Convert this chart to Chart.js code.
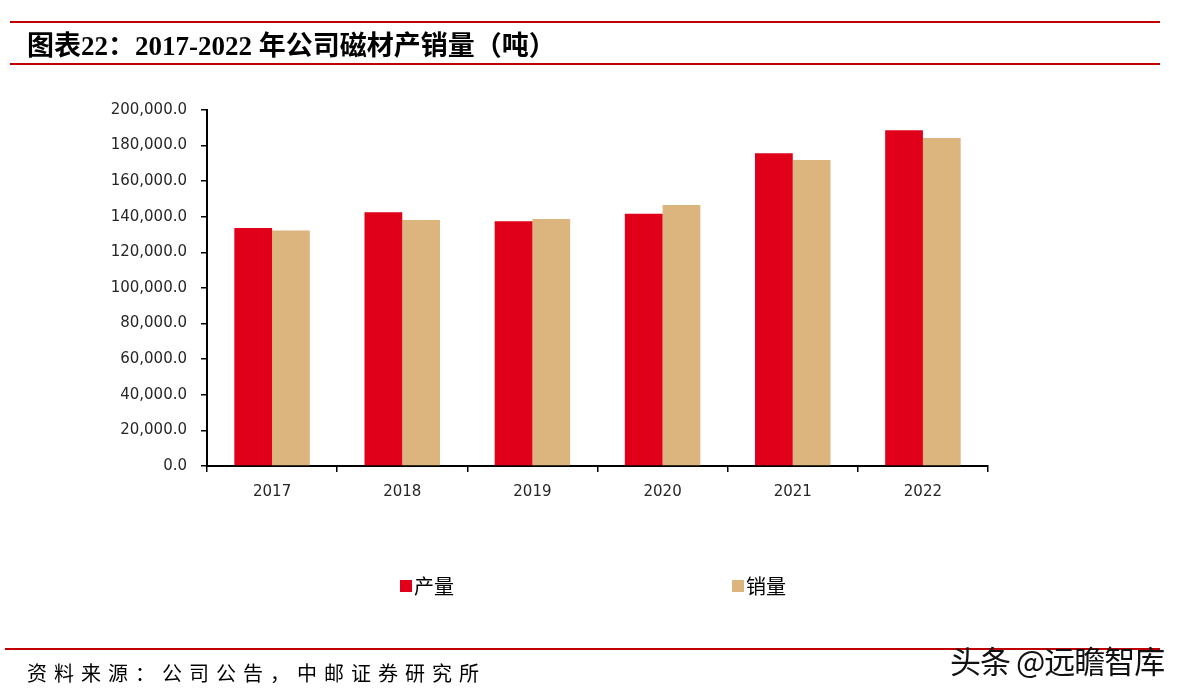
<!DOCTYPE html>
<html><head><meta charset="utf-8">
<script src="https://cdn.jsdelivr.net/npm/chart.js@4.4.1/dist/chart.umd.min.js"></script>
<style>
html,body{margin:0;padding:0;background:#fff;width:1190px;height:695px;overflow:hidden;position:relative}
#c{position:absolute;left:0;top:0}
.rule{position:absolute;background:#C00000;}
#title{position:absolute;left:27px;top:29px;font:bold 27px "Liberation Serif","Noto Sans CJK SC";color:#000;white-space:nowrap;line-height:34px}
#src{position:absolute;left:27px;top:659px;font:20px "Noto Sans CJK SC";letter-spacing:7px;color:#000;white-space:nowrap;line-height:28px}
#wm{position:absolute;left:950px;top:641px;font:31px "Noto Sans CJK SC";color:#111;white-space:nowrap;line-height:38px;letter-spacing:-1px}
</style></head>
<body>
<canvas id="c" width="1190" height="695"></canvas>
<div class="rule" style="left:10px;top:21px;width:1150px;height:2px"></div>
<div id="title">图表22：2017-2022 年公司磁材产销量（吨）</div>
<div class="rule" style="left:10px;top:63px;width:1150px;height:2px"></div>
<div class="rule" style="left:5px;top:648px;width:1155px;height:2px"></div>
<div id="src">资料来源：公司公告，中邮证券研究所</div>
<div id="wm">头条 @远瞻智库</div>
<script>
const categories = ['2017','2018','2019','2020','2021','2022'];
const seriesNames = ['产量','销量'];
const production = [133700, 142500, 137500, 141700, 175700, 188600];
const sales = [132300, 138200, 138800, 146600, 171900, 184300];
const colors = ['#E1001A','#DBB47E'];

const legendPlugin = {
  id: 'customLegend',
  afterDraw(chart) {
    const ctx = chart.ctx, a = chart.chartArea;
    const xs = [a.left + 193, a.left + 525];
    const y = a.bottom + 120;
    ctx.save();
    ctx.font = '20px "Noto Sans CJK SC"';
    ctx.textBaseline = 'middle';
    ctx.textAlign = 'left';
    chart.data.datasets.forEach((ds, i) => {
      ctx.fillStyle = ds.backgroundColor;
      ctx.fillRect(xs[i], y - 6, 12, 12);
      ctx.fillStyle = '#000';
      ctx.fillText(ds.label, xs[i] + 14, y);
    });
    ctx.restore();
  }
};

new Chart(document.getElementById('c'), {
  type: 'bar',
  data: {
    labels: categories,
    datasets: [
      {label: seriesNames[0], data: production, backgroundColor: colors[0], categoryPercentage: 0.58, barPercentage: 1.0},
      {label: seriesNames[1], data: sales, backgroundColor: colors[1], categoryPercentage: 0.58, barPercentage: 1.0}
    ]
  },
  options: {
    responsive: false,
    animation: false,
    devicePixelRatio: 1,
    layout: {padding: {left: 0, top: 110, right: 202, bottom: 189}},
    plugins: {legend: {display: false}, tooltip: {enabled: false}},
    scales: {
      x: {
        afterFit(s) { s.height = 40; },
        grid: {offset: true, drawOnChartArea: false, drawTicks: true, tickLength: 6, color: '#000', lineWidth: 1.5},
        border: {color: '#000', width: 2},
        ticks: {color: '#262626', padding: 11, font: {family: 'DejaVu Sans', size: 15}}
      },
      y: {
        min: 0, max: 200000,
        afterFit(s) { s.width = 207; },
        grid: {drawOnChartArea: false, drawTicks: true, tickLength: 6, color: '#000', lineWidth: 1.5},
        border: {color: '#000', width: 2},
        ticks: {stepSize: 20000, color: '#262626', padding: 14, font: {family: 'DejaVu Sans', size: 15},
          callback: v => v.toLocaleString('en-US', {minimumFractionDigits: 1, maximumFractionDigits: 1})}
      }
    }
  },
  plugins: [legendPlugin]
});
</script>
</body></html>
